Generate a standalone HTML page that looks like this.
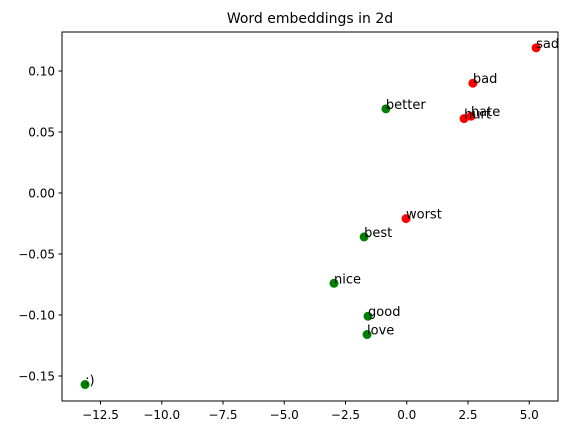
<!DOCTYPE html>
<html><head><meta charset="utf-8"><style>
body{margin:0;background:#fff;font-family:"Liberation Sans","DejaVu Sans",sans-serif;}
</style></head><body>
<svg id="chart" width="570" height="435" xmlns="http://www.w3.org/2000/svg" font-family="DejaVu Sans, Liberation Sans, sans-serif">
<text x="310" y="23" text-anchor="middle" font-size="14">Word embeddings in 2d</text>
<g id="plot"></g>
<rect x="62" y="32" width="496" height="369" fill="none" stroke="#000" stroke-width="1"/>
</svg>
<script>
const words=["sad","bad","hate","hurt","better","worst","best","nice","good","love",":)"];
const xs=[5.28,2.70,2.62,2.34,-0.85,-0.03,-1.74,-2.97,-1.58,-1.62,-13.13];
const ys=[0.119,0.090,0.063,0.061,0.069,-0.021,-0.036,-0.074,-0.101,-0.116,-0.157];
const sentiment=["neg","neg","neg","neg","pos","neg","pos","pos","pos","pos","pos"];
const xTicks=[-12.5,-10.0,-7.5,-5.0,-2.5,0.0,2.5,5.0];
const yTicks=[-0.15,-0.10,-0.05,0.00,0.05,0.10];
const ns="http://www.w3.org/2000/svg";
const g=document.getElementById('plot');
function X(v){return 406.75+v*24.5;}
function Y(v){return 193-v*1220;}
function mk(t,a){const e=document.createElementNS(ns,t);for(const k in a)e.setAttribute(k,a[k]);g.appendChild(e);return e;}
xTicks.forEach(t=>{const x=X(t);
 const l=mk('line',{x1:x,x2:x,y1:401,y2:404.5,stroke:'#000'});
 
 
 const tx=mk('text',{x:x,y:419,'text-anchor':'middle','font-size':'12'});
 tx.textContent=t.toFixed(1).replace('-','\u2212');
 
 });
yTicks.forEach(t=>{const y=Y(t);
 const l=mk('line',{x1:58.5,x2:62,y1:y,y2:y,stroke:'#000'});
 
 
 const tx=mk('text',{x:55,y:y+4.5,'text-anchor':'end','font-size':'12'});
 tx.textContent=t.toFixed(2).replace('-','\u2212');
 
 });
words.forEach((w,i)=>{const x=X(xs[i]),y=Y(ys[i]);
 const c=mk('circle',{cx:x,cy:y,r:4.5,fill:sentiment[i]==='neg'?'#ff0000':'#008000'});
 
 
 const tx=mk('text',{x:x,y:y,'font-size':'13'});
 tx.textContent=w;
 
 });
</script>
</body></html>
